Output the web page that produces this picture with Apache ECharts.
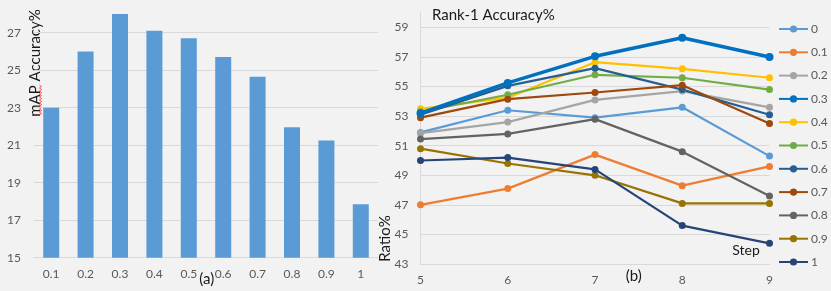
<!DOCTYPE html>
<html><head><meta charset="utf-8">
<script src="https://cdn.jsdelivr.net/npm/echarts@6/dist/echarts.min.js"></script>
<style>html,body{margin:0;padding:0;background:#f2f2f2}#c{width:831px;height:291px}</style>
</head><body><div id="c"></div>
<script>
// ---- data ----
const ratios = ['0.1','0.2','0.3','0.4','0.5','0.6','0.7','0.8','0.9','1'];
const mapValues = [23.0, 26.0, 28.0, 27.1, 26.7, 25.7, 24.65, 21.95, 21.25, 17.85];
const steps = ['5','6','7','8','9'];
const seriesNames = ['0','0.1','0.2','0.3','0.4','0.5','0.6','0.7','0.8','0.9','1'];
const r00 = [51.9, 53.4, 52.9, 53.6, 50.3];
const r01 = [47.0, 48.1, 50.4, 48.3, 49.6];
const r02 = [51.85, 52.6, 54.1, 54.7, 53.6];
const r03 = [53.2, 55.25, 57.05, 58.3, 57.0];
const r04 = [53.5, 54.25, 56.65, 56.2, 55.6];
const r05 = [53.3, 54.45, 55.8, 55.6, 54.8];
const r06 = [53.1, 55.05, 56.25, 54.8, 53.1];
const r07 = [52.9, 54.15, 54.6, 55.1, 52.5];
const r08 = [51.45, 51.8, 52.8, 50.6, 47.6];
const r09 = [50.8, 49.8, 49.0, 47.1, 47.1];
const r10 = [50.0, 50.2, 49.4, 45.6, 44.4];
const lineData = [r00, r01, r02, r03, r04, r05, r06, r07, r08, r09, r10];
const leftTicks = [15, 17, 19, 21, 23, 25, 27];
const rightTicks = [43, 45, 47, 49, 51, 53, 55, 57, 59];

// ---- styles ----
const colors = ['#5B9BD5','#ED7D31','#A5A5A5','#0070C0','#FFC000','#70AD47','#255E91','#9E480E','#636363','#997300','#264478'];
const FONT = 'Lato, "Liberation Sans", sans-serif';
const labelColor = '#595959';
const gridColor = '#d9d9d9';

const chart = echarts.init(document.getElementById('c'), null, {renderer: 'canvas'});

const lineSeries = lineData.map((d, i) => ({
  name: seriesNames[i],
  type: 'line',
  xAxisIndex: 1, yAxisIndex: 1,
  data: d,
  symbol: 'circle',
  symbolSize: i === 3 ? 8 : 7,
  lineStyle: {width: i === 3 ? 3.5 : 2.2, color: colors[i]},
  itemStyle: {color: colors[i]},
  z: i === 3 ? 5 : 3,
  animation: false
}));

// spell-check squiggle under "mAP"
const squiggle = [];
for (let k = 0; k <= 20; k++) squiggle.push([k % 2 ? 41.6 : 39.4, 85 + k * 1.5]);

chart.setOption({
  backgroundColor: '#f2f2f2',
  animation: false,
  textStyle: {fontFamily: FONT},
  grid: [
    {left: 34, right: 831 - 378, top: 6, bottom: 291 - 257.7},
    {left: 420.5, right: 831 - 769.5, top: 12.7, bottom: 27}
  ],
  xAxis: [
    {type: 'category', gridIndex: 0, data: ratios,
     axisLine: {show: true, lineStyle: {color: gridColor}}, axisTick: {show: false},
     axisLabel: {color: labelColor, fontSize: 12, margin: 10, fontFamily: FONT}},
    {type: 'category', gridIndex: 1, data: steps, boundaryGap: false,
     axisLine: {show: true, lineStyle: {color: gridColor}}, axisTick: {show: false},
     axisLabel: {color: labelColor, fontSize: 12, margin: 10, fontFamily: FONT}}
  ],
  yAxis: [
    {type: 'value', gridIndex: 0, min: leftTicks[0], max: 28.42, interval: 2,
     axisLine: {show: false}, axisTick: {show: false},
     axisLabel: {color: labelColor, fontSize: 12, margin: 13, showMaxLabel: false, fontFamily: FONT},
     splitLine: {show: true, showMaxLine: false, lineStyle: {color: gridColor, width: 1}}},
    {type: 'value', gridIndex: 1, min: rightTicks[0], max: 60, interval: 2,
     axisLine: {show: true, lineStyle: {color: gridColor}}, axisTick: {show: false},
     axisLabel: {color: labelColor, fontSize: 12, margin: 12, showMaxLabel: false, fontFamily: FONT},
     splitLine: {show: true, showMaxLine: false, lineStyle: {color: gridColor, width: 1}}}
  ],
  legend: {
    orient: 'vertical', left: 778, top: 22, padding: 0,
    itemWidth: 29, itemHeight: 9, itemGap: 9.3,
    data: seriesNames,
    textStyle: {color: labelColor, fontSize: 12, lineHeight: 14, fontFamily: FONT, padding: [0, 0, 0, -2]}
  },
  graphic: [
    {type: 'text', x: 35, y: 63, rotation: Math.PI / 2,
     style: {text: 'mAP Accuracy%', font: '15px ' + FONT, fill: '#1a1a1a', align: 'center', verticalAlign: 'middle'}},
    {type: 'polyline', shape: {points: squiggle}, style: {stroke: '#ff3030', lineWidth: 0.8, fill: null}},
    {type: 'text', x: 385, y: 238.5, rotation: Math.PI / 2,
     style: {text: 'Ratio%', font: '15px ' + FONT, fill: '#1a1a1a', align: 'center', verticalAlign: 'middle'}},
    {type: 'text', x: 432, y: 15.5,
     style: {text: 'Rank-1 Accuracy%', font: '15px ' + FONT, fill: '#1a1a1a', align: 'left', verticalAlign: 'middle'}},
    {type: 'text', x: 746, y: 250,
     style: {text: 'Step', font: '14px ' + FONT, fill: '#1a1a1a', align: 'center', verticalAlign: 'middle'}},
    {type: 'text', x: 206.7, y: 279,
     style: {text: '(a)', font: '15px ' + FONT, fill: '#1a1a1a', align: 'center', verticalAlign: 'middle'}},
    {type: 'text', x: 633.7, y: 276,
     style: {text: '(b)', font: '15px ' + FONT, fill: '#1a1a1a', align: 'center', verticalAlign: 'middle'}}
  ],
  series: [
    {type: 'bar', name: 'mAP', xAxisIndex: 0, yAxisIndex: 0, data: mapValues,
     barWidth: 16, itemStyle: {color: '#5B9BD5'}, animation: false}
  ].concat(lineSeries)
});
</script></body></html>
